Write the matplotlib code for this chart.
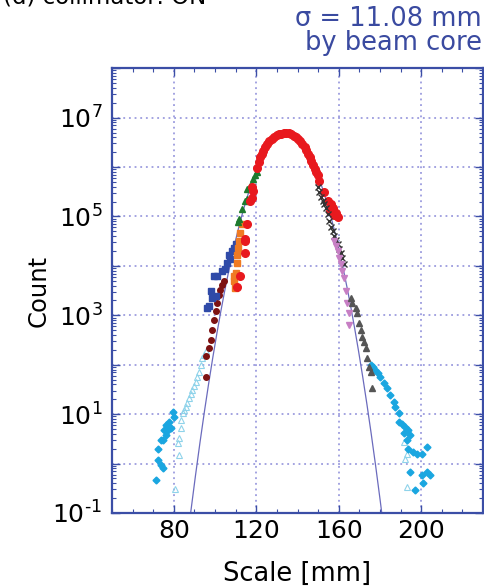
import numpy as np
import matplotlib.pyplot as plt
from matplotlib.ticker import FixedLocator, LogLocator, FuncFormatter, NullFormatter

plt.rcParams['font.family'] = ['DejaVu Sans']
plt.rcParams['mathtext.fontset'] = 'dejavusans'

# data: x in mm, y as log10(count)
red_x = [110.7, 112.3, 114.7, 114.7, 114.7, 115.5, 117.1, 117.7, 117.8, 118.6, 120.2,
         121.1, 121.9, 122.6, 123.4, 124.2, 125.0, 126.2, 127.4, 128.6, 129.8, 131.0,
         132.2, 133.4, 134.6, 135.8, 137.0, 138.2, 139.4, 140.4, 141.3, 142.3, 143.4,
         144.2, 145.0, 145.8, 146.6, 147.5, 148.3, 149.1, 149.9, 150.6, 153.0, 154.6,
         156.0, 157.1, 158.6, 159.5, 155.8, 157.9]
red_y = [3.57, 3.79, 4.27, 4.50, 4.54, 4.84, 5.32, 5.38, 5.59, 5.52, 5.99,
         6.10, 6.20, 6.27, 6.33, 6.40, 6.46, 6.52, 6.57, 6.61, 6.64, 6.66,
         6.67, 6.69, 6.69, 6.68, 6.66, 6.63, 6.60, 6.56, 6.52, 6.46, 6.40,
         6.34, 6.27, 6.20, 6.12, 6.04, 5.96, 5.90, 5.83, 5.72, 5.49, 5.32,
         5.25, 5.18, 5.08, 4.98, 5.12, 5.02]

green_x = [120.2, 119.5, 118.6, 117.1, 115.5, 115.5, 114.7, 113.0, 111.4, 110.9]
green_y = [5.89, 5.83, 5.76, 5.62, 5.55, 5.35, 5.32, 5.15, 4.95, 4.88]

orange_x = [113.0, 112.3, 111.4, 111.1, 110.7, 110.7, 109.9, 109.0, 109.5, 109.2]
orange_y = [4.84, 4.67, 4.50, 4.37, 4.23, 4.06, 3.86, 3.69, 3.56, 3.79]

blue_x = [109.9, 109.0, 108.2, 107.4, 106.6, 105.8, 105.0, 103.4, 99.4, 101.0,
          97.8, 100.2, 97.0, 98.6, 96.2]
blue_y = [4.44, 4.37, 4.30, 4.13, 4.23, 4.06, 3.93, 3.89, 3.79, 3.80,
          3.49, 3.39, 3.18, 3.35, 3.15]

maroon_x = [104.2, 103.4, 102.6, 101.8, 101.0, 100.2, 99.4, 98.6, 97.8, 97.0, 95.7, 95.7]
maroon_y = [3.69, 3.62, 3.52, 3.42, 3.25, 3.08, 2.91, 2.71, 2.51, 2.34, 2.17, 1.76]

ltri_x = [95.5, 94.6, 93.8, 93.0, 92.2, 91.4, 90.6, 89.8, 89.0, 88.2, 87.4, 86.6,
          85.8, 85.0, 84.2, 83.4, 83.4, 82.6, 81.8, 82.6, 80.7,
          191.5, 193.0, 192.3, 193.0]
ltri_y = [2.27, 2.20, 2.13, 2.00, 1.86, 1.76, 1.66, 1.57, 1.49, 1.40, 1.32, 1.23,
          1.15, 1.08, 1.02, 0.88, 0.71, 0.51, 0.41, 0.17, -0.51,
          0.44, 0.20, 0.10, -0.48]

cyan_x = [79.4, 80.2, 77.8, 76.2, 77.0, 75.4, 78.6, 76.2, 74.6, 73.8, 72.2, 72.2,
          73.8, 74.6, 71.4,
          175.4, 176.6, 177.8, 179.0, 180.2, 181.8, 183.5, 185.0, 186.6, 187.4, 189.0,
          189.0, 190.7, 192.3, 193.8, 194.6, 191.5, 193.0, 193.8, 196.2, 197.9, 200.3,
          202.7, 194.6, 197.1, 200.3, 202.7, 204.2, 201.1]
cyan_y = [1.05, 0.95, 0.85, 0.78, 0.68, 0.68, 0.71, 0.58, 0.47, 0.47, 0.30, 0.07,
          -0.03, -0.10, -0.34,
          2.00, 1.95, 1.90, 1.83, 1.76, 1.62, 1.52, 1.39, 1.25, 1.15, 1.02,
          0.85, 0.81, 0.74, 0.68, 0.58, 0.61, 0.47, 0.30, 0.24, 0.20, 0.20,
          0.34, -0.17, -0.54, -0.24, -0.17, -0.24, -0.40]

cross_x = [149.9, 150.6, 151.5, 152.3, 153.0, 153.8, 154.6, 155.4, 156.2, 157.0,
           157.8, 158.6, 159.5, 160.2, 161.0, 161.8, 162.6]
cross_y = [5.59, 5.49, 5.40, 5.32, 5.25, 5.18, 5.05, 4.91, 4.78, 4.70,
           4.60, 4.52, 4.44, 4.35, 4.27, 4.15, 4.03]

pink_x = [157.8, 158.6, 159.5, 160.2, 161.0, 161.8, 162.6, 163.4, 164.2, 165.0, 165.0]
pink_y = [4.50, 4.40, 4.30, 4.15, 4.03, 3.90, 3.76, 3.49, 3.25, 3.05, 2.81]

gray_x = [165.8, 166.6, 168.2, 169.0, 169.8, 170.6, 171.5, 172.3, 173.1, 173.9,
          174.6, 175.4, 176.3]
gray_y = [3.35, 3.25, 3.15, 3.05, 2.84, 2.70, 2.57, 2.45, 2.34, 2.13,
          1.96, 1.86, 1.52]

fit_amp = 4.7e6
fit_mu = 134.5
fit_sig = 7.8

fig = plt.figure(figsize=(4.85, 5.88), dpi=100)
ax = fig.add_axes([0.231, 0.1276, 0.765, 0.7564])

spine_col = '#3b4ea6'
grid_col = '#8a8ad8'

xf = np.linspace(80, 190, 600)
ax.plot(xf, fit_amp * np.exp(-0.5 * ((xf - fit_mu) / fit_sig) ** 2),
        color='#6b6bbd', lw=0.9, zorder=2)

def pts(x, y, **kw):
    ax.plot(x, 10 ** np.array(y), ls='none', zorder=3, **kw)

pts(ltri_x, ltri_y, marker='^', ms=4.5, mfc='none', mec='#8fd3ea', mew=0.8)
pts(cyan_x, cyan_y, marker='D', ms=3.5, color='#1aa6e0')
pts(maroon_x, maroon_y, marker='o', ms=4, color='#7d1212')
pts(blue_x, blue_y, marker='s', ms=4.5, color='#2f4aa8')
pts(orange_x, orange_y, marker='s', ms=4, color='#f07a22')
pts(green_x, green_y, marker='^', ms=5, color='#1d7a2e')
pts(red_x, red_y, marker='o', ms=5.5, color='#e8191e')
pts(cross_x, cross_y, marker='x', ms=4.5, color='#333333', mew=1.0)
pts(pink_x, pink_y, marker='v', ms=4.5, color='#c77fc4')
pts(gray_x, gray_y, marker='^', ms=4.5, color='#555555')

ax.set_yscale('log')
ax.set_xlim(50, 230)
ax.set_ylim(0.1, 1e8)

ax.xaxis.set_major_locator(FixedLocator([80, 120, 160, 200]))
ax.xaxis.set_minor_locator(FixedLocator(list(range(50, 231, 10))))
ax.yaxis.set_major_locator(FixedLocator([10.0 ** k for k in range(-1, 9)]))
ax.yaxis.set_minor_locator(LogLocator(base=10, subs=np.arange(2, 10), numticks=20))
ax.yaxis.set_minor_formatter(NullFormatter())

def ylab(v, pos):
    k = int(round(np.log10(v)))
    if k == -1:
        return r'$10^{\text{-}1}$'
    if k % 2 == 1:
        return r'$10^{%d}$' % k
    return ''

ax.yaxis.set_major_formatter(FuncFormatter(ylab))

ax.grid(True, which='major', color=grid_col, ls=(0, (1.2, 2.5)), lw=1.1)
ax.tick_params(which='both', direction='in', top=True, right=True, color=spine_col)
ax.tick_params(which='major', length=6, width=1, labelsize=18)
ax.tick_params(axis='x', which='major', pad=4)
ax.tick_params(axis='y', which='major', pad=7)
ax.tick_params(which='minor', length=3, width=0.8)
for s in ax.spines.values():
    s.set_color(spine_col)
    s.set_linewidth(1.6)

ax.set_xlabel('Scale [mm]', fontsize=18.5, labelpad=13)
ax.set_ylabel('Count', fontsize=17.5, labelpad=1)

fig.text(0.994, 0.968, 'σ = 11.08 mm', color='#3a4aa0', fontsize=18.5,
         ha='right', va='center')
fig.text(0.994, 0.927, 'by beam core', color='#3a4aa0', fontsize=18.5,
         ha='right', va='center')
fig.text(0.006, 0.994, '(d) collimator: ON', color='black', fontsize=16.5,
         ha='left', va='baseline')

fig.savefig('out.png', dpi=100)
